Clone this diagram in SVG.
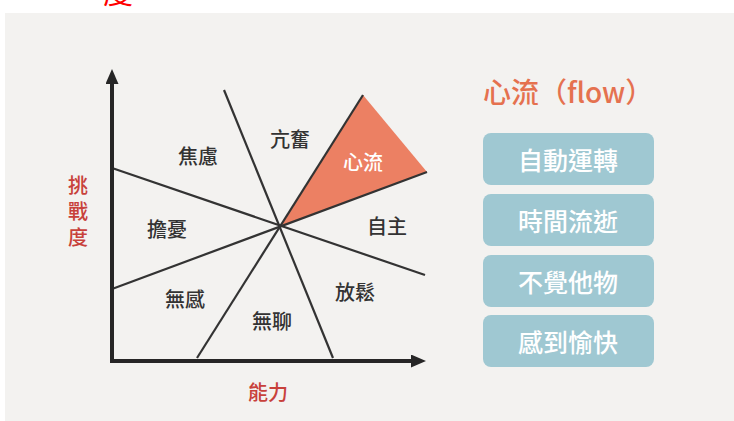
<svg xmlns="http://www.w3.org/2000/svg" width="734" height="421" viewBox="0 0 734 421">
<defs>
<style>
.lbl{font-family:"Noto Sans CJK TC","Noto Sans",sans-serif;font-size:20px;fill:#333;text-anchor:middle;dominant-baseline:central;font-weight:500}
.axl{font-family:"Noto Sans CJK TC","Noto Sans",sans-serif;font-size:20px;fill:#c8413b;text-anchor:middle;dominant-baseline:central;font-weight:500}
.ln{stroke:#333;stroke-width:2.2;fill:none}
.ax{stroke:#262626;stroke-width:4;fill:none}
.box{fill:#9fc8d2}
.bt{font-family:"Noto Sans CJK TC","Noto Sans",sans-serif;font-size:25px;fill:#fff;text-anchor:middle;dominant-baseline:central;font-weight:500}
</style>
<marker id="ah" markerWidth="15" markerHeight="13" refX="2" refY="6.5" orient="auto" markerUnits="userSpaceOnUse">
<path d="M0,0 L15,6.5 L0,13 z" fill="#262626"/>
</marker>
</defs>
<rect x="0" y="0" width="734" height="421" fill="#ffffff"/>
<rect x="5" y="13" width="729" height="408" fill="#f3f2f0"/>
<text x="118" y="3" font-family="Noto Sans CJK TC, sans-serif" font-size="30" fill="#ff0000" text-anchor="middle">度</text>

<g id="flow-region">
<polygon points="281,226 363,95 427,172" fill="#ec8063"/>
</g>
<g id="connectors">
<line class="ln" x1="112" y1="168" x2="425" y2="275"/>
<line class="ln" x1="224" y1="90" x2="333" y2="358"/>
<line class="ln" x1="112" y1="289" x2="427" y2="172"/>
<line class="ln" x1="197" y1="358" x2="363" y2="95"/>
<line class="ax" x1="112" y1="363" x2="112" y2="82" marker-end="url(#ah)"/>
<line class="ax" x1="110" y1="361" x2="413" y2="361" marker-end="url(#ah)"/>
</g>
<g id="label-anxiety"><text class="lbl" x="198" y="155">焦慮</text></g>
<g id="label-arousal"><text class="lbl" x="290" y="138">亢奮</text></g>
<g id="label-flow"><text class="lbl" x="363" y="161" style="fill:#fff">心流</text></g>
<g id="label-worry"><text class="lbl" x="167" y="228">擔憂</text></g>
<g id="label-control"><text class="lbl" x="387" y="225">自主</text></g>
<g id="label-apathy"><text class="lbl" x="185" y="298">無感</text></g>
<g id="label-boredom"><text class="lbl" x="272" y="320">無聊</text></g>
<g id="label-relaxation"><text class="lbl" x="355" y="291">放鬆</text></g>
<g id="axis-x-label"><text class="axl" x="268" y="391">能力</text></g>
<g id="axis-y-label">
<text x="78" y="214" font-family="Noto Sans CJK TC, sans-serif" font-size="20" font-weight="500" fill="#c8413b" writing-mode="vertical-rl" text-anchor="middle" letter-spacing="6">挑戰度</text>
</g>
<g id="title"><text x="483" y="91" font-family="Noto Sans CJK TC, sans-serif" font-size="28" font-weight="500" fill="#e5714f" dominant-baseline="central">心流（flow）</text></g>
<g id="box1"><rect class="box" x="483" y="133" width="171" height="52" rx="8"/><text class="bt" x="568" y="159">自動運轉</text></g>
<g id="box2"><rect class="box" x="483" y="194" width="171" height="52" rx="8"/><text class="bt" x="568" y="220">時間流逝</text></g>
<g id="box3"><rect class="box" x="483" y="255" width="171" height="52" rx="8"/><text class="bt" x="568" y="281">不覺他物</text></g>
<g id="box4"><rect class="box" x="483" y="315" width="171" height="52" rx="8"/><text class="bt" x="568" y="341">感到愉快</text></g>
</svg>
